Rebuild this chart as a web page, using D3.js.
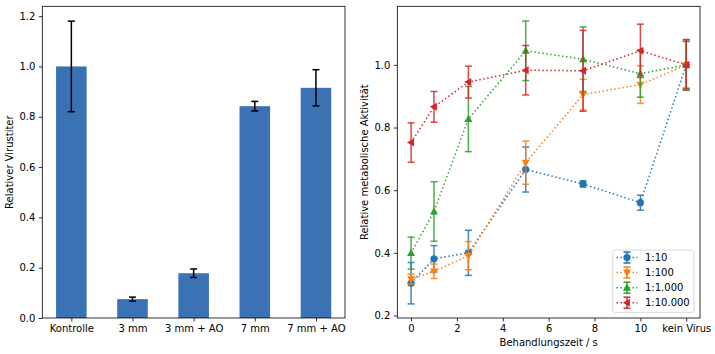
<!DOCTYPE html>
<html><head><meta charset="utf-8">
<script src="https://cdn.jsdelivr.net/npm/d3@7"></script>
<style>body{margin:0;background:#fff}svg{display:block}text{font-family:"DejaVu Sans",sans-serif;font-size:10px;fill:#000}</style>
</head><body><svg id="c" width="715" height="354"></svg>
<script>
// Left panel data
const barCategories = ["Kontrolle","3 mm","3 mm + AO","7 mm","7 mm + AO"];
const barValues = [1.0, 0.075, 0.178, 0.842, 0.915];
const barErrors = [0.18, 0.008, 0.017, 0.019, 0.072];
const barTicks = [0.0,0.2,0.4,0.6,0.8,1.0,1.2];

// Right panel data
const timePoints = [0, 1, 2.5, 5, 7.5, 10, 12];
const timeTicks = [0,2,4,6,8,10,12];
const timeTickLabels = ["0","2","4","6","8","10","kein Virus"];
const activityTicks = [0.2,0.4,0.6,0.8,1.0];
const seriesNames = ["1:10","1:100","1:1.000","1:10.000"];
const s110 = [0.303,0.381,0.400,0.666,0.620,0.560,1.0];
const s110err = [0.066,0.042,0.072,0.072,0.010,0.024,0.075];
const s1100 = [0.316,0.341,0.391,0.688,0.905,0.937,1.0];
const s1100err = [0.016,0.023,0.045,0.069,0.049,0.060,0.080];
const s11000 = [0.399,0.532,0.827,1.045,1.018,0.972,1.0];
const s11000err = [0.051,0.095,0.104,0.095,0.103,0.075,0.075];
const s110000 = [0.752,0.866,0.945,0.983,0.981,1.045,1.0];
const s110000err = [0.063,0.049,0.051,0.079,0.129,0.085,0.081];
const seriesColors = ["#1f77b4","#ff7f0e","#2ca02c","#d62728"];
const seriesMarkers = ["circle","down","up","left"];

const svg = d3.select("#c");

// ---------- Left panel ----------
const L = {x0:42.3, x1:345, y0:6.3, y1:318};
const xb = d3.scaleLinear().domain([-0.475, 4.475]).range([L.x0, L.x1]);
const yb = d3.scaleLinear().domain([0, 1.239]).range([L.y1, L.y0]);
const gL = svg.append("g");
const bw = xb(0.5) - xb(0);
gL.selectAll("rect.bar").data(barValues).join("rect")
  .attr("x",(d,i)=>xb(i)-bw/2).attr("width",bw)
  .attr("y",d=>yb(d)).attr("height",d=>yb(0)-yb(d))
  .attr("fill","#3b72b3");
barValues.forEach((v,i)=>{
  const cx = xb(i), e = barErrors[i];
  gL.append("line").attr("x1",cx).attr("x2",cx).attr("y1",yb(v-e)).attr("y2",yb(v+e)).attr("stroke","#000").attr("stroke-width",1.5);
  [v-e,v+e].forEach(t=>gL.append("line").attr("x1",cx-3.5).attr("x2",cx+3.5).attr("y1",yb(t)).attr("y2",yb(t)).attr("stroke","#000").attr("stroke-width",1.5));
});
const axLb = d3.axisBottom(xb).tickValues(d3.range(barCategories.length)).tickFormat(i=>barCategories[i]).tickSize(3.5).tickPadding(3.5);
const axLl = d3.axisLeft(yb).tickValues(barTicks).tickFormat(d3.format(".1f")).tickSize(3.5).tickPadding(3.5);
function styleAxis(g){g.select(".domain").remove();g.selectAll(".tick line").attr("stroke","#000").attr("stroke-width",0.8);g.selectAll("text").attr("font-size",10).attr("font-family","DejaVu Sans");}
gL.append("g").attr("transform",`translate(0,${L.y1})`).call(axLb).call(styleAxis);
gL.append("g").attr("transform",`translate(${L.x0},0)`).call(axLl).call(styleAxis);
gL.append("rect").attr("x",L.x0).attr("y",L.y0).attr("width",L.x1-L.x0).attr("height",L.y1-L.y0).attr("fill","none").attr("stroke","#000").attr("stroke-width",0.8);
gL.append("text").attr("transform",`translate(13,${(L.y0+L.y1)/2}) rotate(-90)`).attr("text-anchor","middle").text("Relativer Virustiter");

// ---------- Right panel ----------
const R = {x0:397.3, x1:700, y0:6.3, y1:318};
const xr = d3.scaleLinear().domain([-0.6, 12.6]).range([R.x0, R.x1]);
const yr = d3.scaleLinear().domain([0.192, 1.187]).range([R.y1, R.y0]);
const gR = svg.append("g");
const axRb = d3.axisBottom(xr).tickValues(timeTicks).tickFormat((d,i)=>timeTickLabels[i]).tickSize(3.5).tickPadding(3.5);
const axRl = d3.axisLeft(yr).tickValues(activityTicks).tickFormat(d3.format(".1f")).tickSize(3.5).tickPadding(3.5);
gR.append("g").attr("transform",`translate(0,${R.y1})`).call(axRb).call(styleAxis);
gR.append("g").attr("transform",`translate(${R.x0},0)`).call(axRl).call(styleAxis);

function markerPath(type, cx, cy, s){
  if(type==="circle") return d3.path();
  const r = s;
  let pts;
  if(type==="up") pts=[[0,-r],[r*0.95,r*0.7],[-r*0.95,r*0.7]];
  if(type==="down") pts=[[0,r],[r*0.95,-r*0.7],[-r*0.95,-r*0.7]];
  if(type==="left") pts=[[-r,0],[r*0.7,-r*0.95],[r*0.7,r*0.95]];
  return "M"+pts.map(p=>[cx+p[0],cy+p[1]].join(",")).join("L")+"Z";
}
function drawMarker(g,type,cx,cy,color){
  if(type==="circle") g.append("circle").attr("cx",cx).attr("cy",cy).attr("r",3.6).attr("fill",color);
  else g.append("path").attr("d",markerPath(type,cx,cy,4.2)).attr("fill",color);
}
const allSeries = [[s110,s110err],[s1100,s1100err],[s11000,s11000err],[s110000,s110000err]];
allSeries.forEach(([vals,errs],k)=>{
  const color = seriesColors[k];
  const g = gR.append("g");
  const line = d3.line().x((d,i)=>xr(timePoints[i])).y(d=>yr(d));
  g.append("path").datum(vals).attr("d",line).attr("fill","none").attr("stroke",color).attr("stroke-width",1.5).attr("stroke-dasharray","1.5,2.5");
  vals.forEach((v,i)=>{
    const cx = xr(timePoints[i]), e = errs[i];
    g.append("line").attr("x1",cx).attr("x2",cx).attr("y1",yr(v-e)).attr("y2",yr(v+e)).attr("stroke",color).attr("stroke-width",1.5).attr("opacity",0.85);
    [v-e,v+e].forEach(t=>g.append("line").attr("x1",cx-3.5).attr("x2",cx+3.5).attr("y1",yr(t)).attr("y2",yr(t)).attr("stroke",color).attr("stroke-width",1.5).attr("opacity",0.85));
  });
  vals.forEach((v,i)=>drawMarker(g,seriesMarkers[k],xr(timePoints[i]),yr(v),color));
});
gR.append("rect").attr("x",R.x0).attr("y",R.y0).attr("width",R.x1-R.x0).attr("height",R.y1-R.y0).attr("fill","none").attr("stroke","#000").attr("stroke-width",0.8);
gR.append("text").attr("transform",`translate(368,${(R.y0+R.y1)/2}) rotate(-90)`).attr("text-anchor","middle").text("Relative metabolische Aktivität");
gR.append("text").attr("x",(R.x0+R.x1)/2).attr("y",346).attr("text-anchor","middle").text("Behandlungszeit / s");

// Legend
const lg = gR.append("g");
lg.append("rect").attr("x",612.7).attr("y",250).attr("width",81.3).attr("height",62.7).attr("rx",2.5)
  .attr("fill","#fff").attr("fill-opacity",0.8).attr("stroke","#d0d0d0").attr("stroke-width",0.8);
const rowY = [257.5,272.5,287.7,302.7];
seriesNames.forEach((name,k)=>{
  const y = rowY[k], color = seriesColors[k], cx = 627;
  lg.append("line").attr("x1",616.5).attr("x2",637.5).attr("y1",y).attr("y2",y).attr("stroke",color).attr("stroke-width",1.5).attr("stroke-dasharray","1.5,2.5");
  lg.append("line").attr("x1",cx).attr("x2",cx).attr("y1",y-5.5).attr("y2",y+5.5).attr("stroke",color).attr("stroke-width",1.5);
  [y-5.5,y+5.5].forEach(t=>lg.append("line").attr("x1",cx-3.5).attr("x2",cx+3.5).attr("y1",t).attr("y2",t).attr("stroke",color).attr("stroke-width",1.5));
  drawMarker(lg,seriesMarkers[k],cx,y,color);
  lg.append("text").attr("x",645).attr("y",y+3.6).text(name);
});
</script></body></html>
